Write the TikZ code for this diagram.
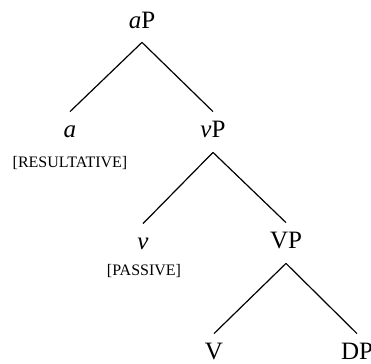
\documentclass[tikz,border=0pt]{standalone}
\usepackage{fontspec}
\setmainfont{Liberation Serif}

\begin{document}
\begin{tikzpicture}[x=0.5pt,y=-0.5pt,
    cat/.style={font=\fontsize{12.5}{14}\selectfont, anchor=base, inner xsep=1pt, inner ysep=4pt, text height=9pt, text depth=3pt},
    feat/.style={font=\fontsize{8}{9}\selectfont, anchor=base, inner sep=0pt},
    branch/.style={line width=0.6pt}]
    \useasboundingbox (0,0) rectangle (371,364);

    % aP
    \node[cat] (aP) at (142,28) {\textit{a}P};
    \node[cat] (a) at (70,138) {\textit{a}};
    \node[feat] (res) at (70,168) {[RESULTATIVE]};
    \node[cat] (vP) at (213,138) {\textit{v}P};
    \draw[branch] (aP.south) -- (a.north);
    \draw[branch] (aP.south) -- (vP.north);

    % vP
    \node[cat] (v) at (143,250) {\textit{v}};
    \node[feat] (pas) at (144,276) {[PASSIVE]};
    \node[cat] (VP) at (286,249) {VP};
    \draw[branch] (vP.south) -- (v.north);
    \draw[branch] (vP.south) -- (VP.north);

    % VP
    \node[cat] (V) at (214,360) {V};
    \node[cat] (DP) at (357,360) {DP};
    \draw[branch] (VP.south) -- (V.north);
    \draw[branch] (VP.south) -- (DP.north);

\end{tikzpicture}
\end{document}
